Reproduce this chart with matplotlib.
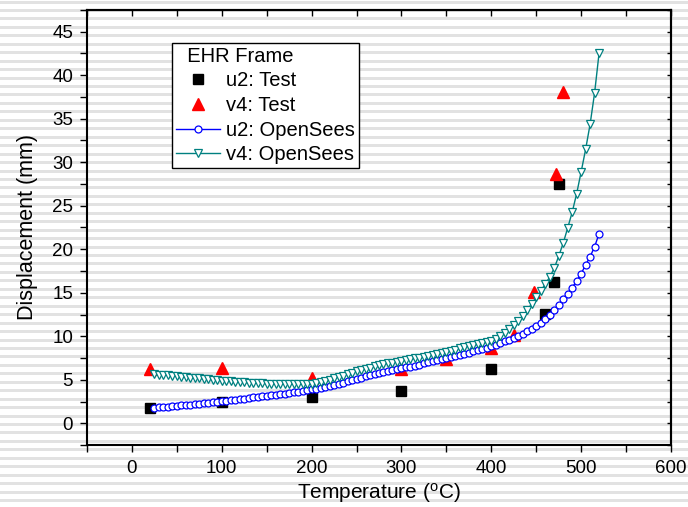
import numpy as np
import matplotlib
matplotlib.use("Agg")
import matplotlib.pyplot as plt
from matplotlib.ticker import MultipleLocator

plt.rcParams['font.family'] = ['Liberation Sans', 'DejaVu Sans']

# ---------------- data ----------------
u2_test_T = [20, 100, 200, 300, 400, 460, 470, 475]
u2_test = [1.8, 2.5, 3.0, 3.75, 6.2, 12.6, 16.2, 27.5]

v4_test_T = [20, 100, 200, 300, 350, 400, 425, 448, 472, 480]
v4_test = [6.2, 6.4, 5.25, 6.2, 7.4, 8.7, 10.2, 15.1, 28.7, 38.1]

model_T = list(range(25, 521, 5))
u2_model = [
    1.78, 1.82, 1.86, 1.90, 1.95, 2.00, 2.05, 2.10, 2.15, 2.20,
    2.25, 2.30, 2.36, 2.42, 2.48, 2.54, 2.60, 2.66, 2.72, 2.78,
    2.84, 2.90, 2.96, 3.02, 3.08, 3.14, 3.20, 3.27, 3.34, 3.41,
    3.48, 3.56, 3.64, 3.72, 3.80, 3.88, 3.98, 4.08, 4.19, 4.30,
    4.42, 4.55, 4.68, 4.82, 4.96, 5.10, 5.24, 5.38, 5.52, 5.65,
    5.78, 5.90, 6.00, 6.10, 6.20, 6.30, 6.41, 6.52, 6.63, 6.75,
    6.87, 7.00, 7.12, 7.25, 7.37, 7.50, 7.62, 7.75, 7.87, 8.00,
    8.12, 8.25, 8.40, 8.55, 8.70, 8.85, 9.02, 9.20, 9.40, 9.60,
    9.82, 10.05, 10.30, 10.55, 10.85, 11.15, 11.50, 11.95, 12.50, 13.00,
    13.60, 14.25, 14.90, 15.60, 16.35, 17.20, 18.20, 19.15, 20.30, 21.80,
]
v4_model = [
    5.65, 5.60, 5.55, 5.50, 5.45, 5.40, 5.35, 5.30, 5.25, 5.20,
    5.15, 5.10, 5.05, 5.00, 4.95, 4.90, 4.85, 4.80, 4.76, 4.72,
    4.69, 4.66, 4.63, 4.60, 4.58, 4.56, 4.54, 4.52, 4.50, 4.49,
    4.48, 4.47, 4.47, 4.47, 4.48, 4.50, 4.58, 4.70, 4.84, 4.99,
    5.15, 5.31, 5.47, 5.63, 5.79, 5.95, 6.10, 6.25, 6.40, 6.53,
    6.65, 6.77, 6.88, 6.97, 7.06, 7.15, 7.25, 7.35, 7.45, 7.55,
    7.65, 7.76, 7.87, 7.98, 8.10, 8.22, 8.35, 8.47, 8.60, 8.72,
    8.85, 8.98, 9.10, 9.25, 9.38, 9.50, 9.70, 10.00, 10.35, 10.80,
    11.26, 11.75, 12.30, 13.00, 13.75, 14.50, 15.20, 16.00, 16.80, 17.80,
    19.20, 20.70, 22.45, 24.25, 26.40, 28.90, 31.50, 34.40, 38.00, 42.60,
]

x_ticks = [0, 100, 200, 300, 400, 500, 600]
y_ticks = [0, 5, 10, 15, 20, 25, 30, 35, 40, 45]

# ---------------- figure ----------------
W, H = 688, 507
fig = plt.figure(figsize=(W / 100, H / 100), dpi=100)
fig.patch.set_facecolor('white')

# striped background
bg = fig.add_axes([0, 0, 1, 1], zorder=-10)
bg.set_xlim(0, W)
bg.set_ylim(H, 0)
bg.axis('off')
period = H / 60.0
for k in range(62):
    c = 2.0 + k * period
    bg.axhspan(c - 1.5, c + 1.5, color='#e2e2e2', lw=0)

ax = fig.add_axes([87 / W, 1 - 445 / H, (671 - 87) / W, (445 - 10) / H])
ax.patch.set_alpha(0)

ax.plot(u2_test_T, u2_test, ls='none', marker='s', ms=7, color='black',
        label='u2: Test', zorder=2)
ax.plot(v4_test_T, v4_test, ls='none', marker='^', ms=9, color='#ff0000',
        label='v4: Test', zorder=2)
ax.plot(model_T, u2_model, '-', color='#0000ff', lw=1, marker='o', ms=5,
        mfc='white', mec='#0000ff', mew=0.9, label='u2: OpenSees', zorder=3)
ax.plot(model_T, v4_model, '-', color='#008080', lw=1, marker='v', ms=6,
        mfc='white', mec='#008080', mew=0.9, label='v4: OpenSees', zorder=4)

ax.set_xlim(-50, 600)
ax.set_ylim(-2.5, 47.5)
ax.set_xticks(x_ticks)
ax.set_yticks(y_ticks)
ax.xaxis.set_minor_locator(MultipleLocator(50))
ax.yaxis.set_minor_locator(MultipleLocator(2.5))
ax.tick_params(axis='both', which='both', direction='out', length=5, width=1,
               labelsize=13.5, top=False, right=False)
ax.tick_params(axis='x', which='major', pad=6)
ax.tick_params(axis='y', which='major', pad=5)

# inward ticks on top and right
sec_x = ax.secondary_xaxis('top')
sec_x.set_xticks([-50, 0, 50, 100, 150, 200, 250, 300, 350, 400, 450, 500, 550, 600])
sec_x.tick_params(direction='in', length=4, width=1, labeltop=False)
sec_x.set_xticklabels([])
sec_y = ax.secondary_yaxis('right')
sec_y.set_yticks(np.arange(-2.5, 47.6, 2.5))
sec_y.tick_params(direction='in', length=3, width=1, labelright=False)
sec_y.set_yticklabels([])

for s in ax.spines.values():
    s.set_linewidth(1.5)
for s in list(sec_x.spines.values()) + list(sec_y.spines.values()):
    s.set_linewidth(1.5)

ax.set_xlabel('Temperature ($\\mathregular{^o}$C)', fontsize=15, labelpad=3)
ax.set_ylabel('Displacement (mm)', fontsize=15.5, labelpad=10)

leg = ax.legend(loc='upper left', bbox_to_anchor=(0.145, 0.925),
                borderaxespad=0, title='  EHR Frame', fontsize=14.5,
                title_fontsize=14.5, fancybox=False, frameon=True,
                edgecolor='black', framealpha=1, handlelength=2.2,
                handletextpad=0.3, labelspacing=0.28, borderpad=0.2)
leg._legend_box.align = 'left'
leg.get_frame().set_linewidth(1)

fig.savefig('out.png', dpi=100)
